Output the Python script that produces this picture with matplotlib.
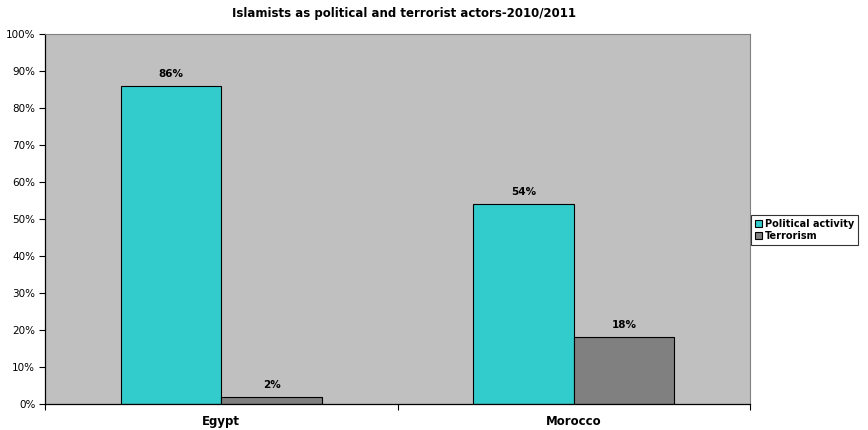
import numpy as np
import matplotlib
matplotlib.use('Agg')
import matplotlib.pyplot as plt

# data
categories = ['Egypt', 'Morocco']
political = [86, 54]
terrorism = [2, 18]
series_names = ['Political activity', 'Terrorism']

plt.rcParams['font.family'] = ['DejaVu Sans']

fig = plt.figure(figsize=(8.68, 4.30), dpi=100)
ax = fig.add_axes([45/868, 26/430, 705/868, 370/430])
ax.set_facecolor('#C0C0C0')

x = np.arange(len(categories))
w = 1 / 3.5  # excel gap width 150%
b1 = ax.bar(x - w/2, political, w, color='#33CCCC', edgecolor='black', linewidth=0.8, label=series_names[0])
b2 = ax.bar(x + w/2, terrorism, w, color='#808080', edgecolor='black', linewidth=0.8, label=series_names[1])

for bars in (b1, b2):
    for r in bars:
        ax.annotate('%d%%' % r.get_height(), (r.get_x() + r.get_width()/2, r.get_height()),
                    xytext=(0, 5), textcoords='offset points', ha='center', va='bottom',
                    fontsize=7.5, fontweight='bold')

ax.set_xlim(-0.5, len(categories) - 0.5)
ax.set_ylim(0, 100)
ax.set_yticks(range(0, 101, 10))
ax.set_yticklabels(['%d%%' % v for v in range(0, 101, 10)], fontsize=7.5)
ax.set_xticks([-0.5, 0.5, 1.5])
ax.set_xticklabels([])
ax.set_xticks(x, minor=True)
ax.set_xticklabels(categories, minor=True, fontsize=8.5, fontweight='bold')
ax.tick_params(axis='x', which='minor', length=0, pad=8)
ax.tick_params(axis='x', which='major', length=4, width=0.8, direction='out')
ax.tick_params(axis='y', length=4, width=0.8, direction='out', pad=3)

for s in ['top', 'right']:
    ax.spines[s].set_color('#808080')
    ax.spines[s].set_linewidth(0.8)
for s in ['left', 'bottom']:
    ax.spines[s].set_color('black')
    ax.spines[s].set_linewidth(0.9)

leg = ax.legend(loc='center left', bbox_to_anchor=(1.002, 0.47), frameon=True, fancybox=False,
                edgecolor='black', prop={'size': 7, 'weight': 'bold'},
                handlelength=0.75, handleheight=0.75, handletextpad=0.3,
                borderpad=0.35, labelspacing=0.25, borderaxespad=0)
leg.get_frame().set_linewidth(0.8)

fig.text(232/868, 1 - 14/430, 'Islamists as political and terrorist actors-2010/2011',
         ha='left', va='center', fontsize=8.5, fontweight='bold')

fig.savefig('out.png', dpi=100)
